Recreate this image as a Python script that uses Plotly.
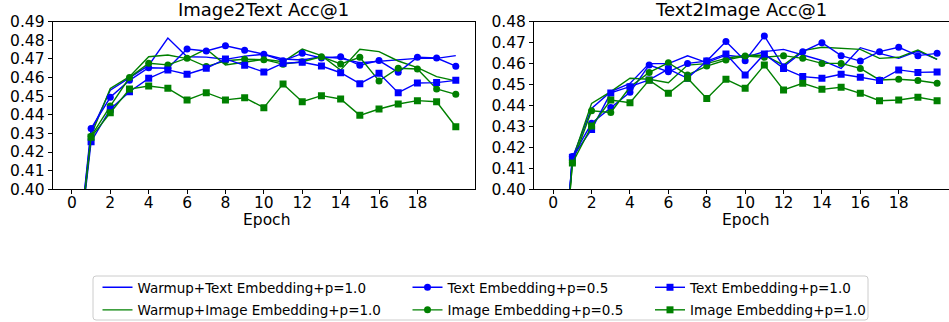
import plotly.graph_objects as go

epochs = list(range(0, 21))

# Image2Text Acc@1
i2t_warmup_text = [0.335, 0.431, 0.4532, 0.4600, 0.4665, 0.4812, 0.4712, 0.4710, 0.4698, 0.4715, 0.4725,
                   0.4700, 0.4694, 0.4712, 0.4703, 0.4680, 0.4688, 0.4694, 0.4703, 0.4703, 0.4718]
i2t_warmup_image = [0.335, 0.429, 0.4542, 0.4605, 0.4712, 0.4721, 0.4702, 0.4753, 0.4668, 0.4685, 0.4698,
                    0.4685, 0.4753, 0.4718, 0.4640, 0.4752, 0.4739, 0.4689, 0.4653, 0.4605, 0.4582]
i2t_text_05 = [0.335, 0.4326, 0.4494, 0.4585, 0.4653, 0.4650, 0.4753, 0.4743, 0.4771, 0.4747, 0.4725,
               0.4690, 0.4730, 0.4705, 0.4712, 0.4666, 0.4691, 0.4628, 0.4709, 0.4705, 0.4661]
i2t_image_05 = [0.335, 0.4285, 0.4447, 0.4600, 0.4677, 0.4668, 0.4704, 0.4659, 0.4690, 0.4698, 0.4696,
                0.4672, 0.4685, 0.4712, 0.4673, 0.4709, 0.4582, 0.4650, 0.4646, 0.4539, 0.4510]
i2t_text_10 = [0.335, 0.4256, 0.4430, 0.4524, 0.4596, 0.4641, 0.4618, 0.4650, 0.4700, 0.4666, 0.4630,
               0.4677, 0.4682, 0.4662, 0.4626, 0.4567, 0.4623, 0.4519, 0.4571, 0.4573, 0.4585]
i2t_image_10 = [0.335, 0.4280, 0.4411, 0.4538, 0.4555, 0.4542, 0.4480, 0.4519, 0.4480, 0.4492, 0.4438,
                0.4566, 0.4470, 0.4503, 0.4485, 0.4397, 0.4431, 0.4458, 0.4476, 0.4470, 0.4336]

# Text2Image Acc@1
t2i_warmup_text = [0.30, 0.4150, 0.4386, 0.4466, 0.4505, 0.4600, 0.4600, 0.4637, 0.4605, 0.4640, 0.4630,
                   0.4657, 0.4668, 0.4640, 0.4615, 0.4577, 0.4676, 0.4649, 0.4625, 0.4660, 0.4620]
t2i_warmup_image = [0.30, 0.4140, 0.4410, 0.4466, 0.4530, 0.4525, 0.4509, 0.4593, 0.4600, 0.4625, 0.4640,
                    0.4640, 0.4593, 0.4662, 0.4678, 0.4673, 0.4668, 0.4625, 0.4630, 0.4665, 0.4620]
t2i_text_05 = [0.30, 0.4156, 0.4315, 0.4391, 0.4463, 0.4593, 0.4561, 0.4601, 0.4612, 0.4705, 0.4614,
               0.4732, 0.4585, 0.4657, 0.4700, 0.4638, 0.4612, 0.4657, 0.4678, 0.4638, 0.4649]
t2i_image_05 = [0.30, 0.4127, 0.4375, 0.4367, 0.4488, 0.4558, 0.4604, 0.4546, 0.4588, 0.4617, 0.4636,
                0.4630, 0.4638, 0.4625, 0.4601, 0.4601, 0.4577, 0.4522, 0.4525, 0.4519, 0.4506]
t2i_text_10 = [0.30, 0.4153, 0.4286, 0.4460, 0.4490, 0.4522, 0.4574, 0.4530, 0.4612, 0.4646, 0.4546,
               0.4646, 0.4577, 0.4538, 0.4530, 0.4549, 0.4535, 0.4519, 0.4570, 0.4558, 0.4560]
t2i_image_10 = [0.30, 0.4125, 0.4302, 0.4426, 0.4413, 0.4521, 0.4458, 0.4530, 0.4433, 0.4525, 0.4482,
                0.4593, 0.4474, 0.4506, 0.4477, 0.4487, 0.4458, 0.4423, 0.4426, 0.4439, 0.4423]

series_names = ["Warmup+Text Embedding+p=1.0", "Warmup+Image Embedding+p=1.0",
                "Text Embedding+p=0.5", "Image Embedding+p=0.5",
                "Text Embedding+p=1.0", "Image Embedding+p=1.0"]
x_tick_vals = [0, 2, 4, 6, 8, 10, 12, 14, 16, 18]
left_y_ticks = [0.40, 0.41, 0.42, 0.43, 0.44, 0.45, 0.46, 0.47, 0.48, 0.49]
right_y_ticks = [0.40, 0.41, 0.42, 0.43, 0.44, 0.45, 0.46, 0.47, 0.48]
titles = ["Image2Text Acc@1", "Text2Image Acc@1"]
x_label = "Epoch"

BLUE = "#0000ff"
GREEN = "#008000"
styles = [
    (BLUE, None, "legend"),
    (GREEN, None, "legend"),
    (BLUE, "circle", "legend2"),
    (GREEN, "circle", "legend2"),
    (BLUE, "square", "legend3"),
    (GREEN, "square", "legend3"),
]

left_data = [i2t_warmup_text, i2t_warmup_image, i2t_text_05, i2t_image_05, i2t_text_10, i2t_image_10]
right_data = [t2i_warmup_text, t2i_warmup_image, t2i_text_05, t2i_image_05, t2i_text_10, t2i_image_10]

# reference canvas size (positions below are expressed as fractions of it)
W, H = 949, 322
FONT = "DejaVu Sans"

fig = go.Figure()
for panel, (data, xa, ya) in enumerate([(left_data, "x", "y"), (right_data, "x2", "y2")]):
    for k, (name, vals, (color, sym, leg)) in enumerate(zip(series_names, data, styles)):
        tr = dict(x=epochs, y=vals, name=name, xaxis=xa, yaxis=ya,
                  line=dict(color=color, width=1.4),
                  showlegend=(panel == 0), legend=leg, legendgroup=f"g{k}")
        if sym:
            tr.update(mode="lines+markers", marker=dict(symbol=sym, size=7, color=color))
        else:
            tr.update(mode="lines")
        fig.add_trace(go.Scatter(**tr))

px_per_epoch = (475 - 52.7) / 22.0
right_max = -1 + (W - 534) / px_per_epoch

ydom = [1 - 189.3 / H, 1 - 21.7 / H]
axis_common = dict(showgrid=False, zeroline=False, showline=True, linecolor="black", linewidth=1,
                   ticks="outside", ticklen=4, tickwidth=1, tickcolor="black", automargin=False,
                   tickfont=dict(family=FONT, size=15.5, color="black"))
xaxis_extra = dict(ticklabelstandoff=-5)

leg_common = dict(yanchor="top", xanchor="left", orientation="v", bgcolor="rgba(0,0,0,0)",
                  font=dict(family=FONT, size=13.5, color="black"), tracegroupgap=2)
leg_y = 1 - 272 / H

fig.update_layout(
    template="none",
    autosize=True,
    margin=dict(l=0, r=0, t=0, b=0, autoexpand=False),
    paper_bgcolor="white", plot_bgcolor="white",
    font=dict(family=FONT, color="black"),
    xaxis=dict(domain=[52.7 / W, 475 / W], range=[-1, 21], tickvals=x_tick_vals, anchor="y",
               mirror=True, **axis_common, **xaxis_extra),
    yaxis=dict(domain=ydom, range=[0.40, 0.49], tickvals=left_y_ticks, tickformat=".2f", anchor="x",
               mirror=True, **axis_common),
    xaxis2=dict(domain=[534 / W, 1.0], range=[-1, right_max], tickvals=x_tick_vals, anchor="y2",
                mirror=True, **axis_common, **xaxis_extra),
    yaxis2=dict(domain=ydom, range=[0.40, 0.48], tickvals=right_y_ticks, tickformat=".2f", anchor="x2",
                **axis_common),
    legend=dict(x=97.5 / W, y=leg_y, **leg_common),
    legend2=dict(x=407.5 / W, y=leg_y, **leg_common),
    legend3=dict(x=650 / W, y=leg_y, **leg_common),
)

# legend frame (rounded)
x0, x1, y0, y1, r = 93 / W, 868 / W, 1 - 320 / H, 1 - 276 / H, 3
rx, ry = r / W, r / H
path = (f"M {x0+rx},{y0} L {x1-rx},{y0} Q {x1},{y0} {x1},{y0+ry} L {x1},{y1-ry} Q {x1},{y1} {x1-rx},{y1} "
        f"L {x0+rx},{y1} Q {x0},{y1} {x0},{y1-ry} L {x0},{y0+ry} Q {x0},{y0} {x0+rx},{y0} Z")
fig.add_shape(type="path", path=path, xref="paper", yref="paper",
              line=dict(color="#cccccc", width=1), fillcolor="rgba(255,255,255,0.8)", layer="below")

for cx, t in zip([263.9 / W, 741 / W], titles):
    fig.add_annotation(text=t, x=cx, y=1 - 10 / H, xref="paper", yref="paper", showarrow=False,
                       xanchor="center", yanchor="middle", font=dict(family=FONT, size=18, color="black"))
for cx in [266 / W, 745 / W]:
    fig.add_annotation(text=x_label, x=cx, y=1 - 220 / H, xref="paper", yref="paper", showarrow=False,
                       xanchor="center", yanchor="middle", font=dict(family=FONT, size=15.5, color="black"))

post = ("var g=document.getElementsByClassName('plotly-graph-div')[0];"
        "document.documentElement.style.margin='0';document.body.style.margin='0';"
        "document.documentElement.style.overflow='hidden';document.body.style.overflow='hidden';"
        "g.style.position='fixed';g.style.left='0px';g.style.top='0px';"
        "g.style.width='100vw';g.style.height='100vh';"
        "Plotly.Plots.resize(g);")
fig.write_html("out.html", default_width="100vw", default_height="100vh",
               config={"displayModeBar": False, "responsive": True}, post_script=post)
